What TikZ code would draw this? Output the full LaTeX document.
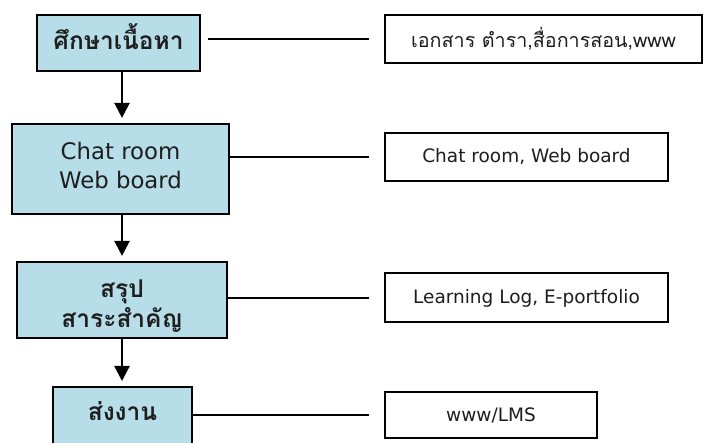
\documentclass[tikz,border=0pt]{standalone}
\usepackage{fontspec}
\setmainfont{DejaVu Sans}
\newfontfamily\thai[Script=Thai]{Loma}
\usetikzlibrary{arrows.meta}
\definecolor{boxblue}{RGB}{183,221,232}
\definecolor{ink}{RGB}{30,30,30}
\tikzset{
  mainbox/.style={draw=black, line width=2.2pt, fill=boxblue, inner sep=0pt},
  sidebox/.style={draw=black, line width=2pt, fill=white, text=ink, align=center, inner sep=0pt},
  thaimain/.style={text=ink, inner sep=0pt, anchor=base, font=\thai\bfseries\fontsize{24.5}{32}\selectfont},
  latinmain/.style={text=ink, inner sep=0pt, anchor=base, font=\fontsize{22.8}{30}\selectfont},
  sidetext/.style={font=\fontsize{18.5}{22}\selectfont},
  flowarrow/.style={line width=2.3pt, -{Triangle[width=15pt,length=15pt]}, shorten >=5pt},
  link/.style={line width=1.6pt, shorten >=15pt}
}
\begin{document}
\begin{tikzpicture}[x=1pt,y=-1pt]
\useasboundingbox (0,0) rectangle (704,443);
\clip (0,0) rectangle (704,443);
% main column boxes
\node[mainbox, minimum width=163, minimum height=56] (b1) at (118.5,43) {};
\node[mainbox, minimum width=217, minimum height=90] (b2) at (120.5,169) {};
\node[mainbox, minimum width=210, minimum height=76] (b3) at (122,300) {};
\node[mainbox, minimum width=139, minimum height=60, anchor=north] (b4) at (122.5,386) {};
% main column texts
\node[thaimain] (t1) at (118.5,49.5) {ศึกษาเนื้อหา};
\node[latinmain] (t2a) at (120.5,160) {Chat room};
\node[latinmain] (t2b) at (120.5,189) {Web board};
\node[thaimain] (t3a) at (122,297.5) {สรุป};
\node[thaimain] (t3b) at (122,328) {สาระสำคัญ};
\node[thaimain] (t4) at (122.5,420) {ส่งงาน};
% side boxes
\node[sidebox, font=\thai\fontsize{19.7}{24}\selectfont, minimum width=317, minimum height=48] (r1) at (543.5,39) {เอกสาร ตำรา,สื่อการสอน,www};
\node[sidebox, sidetext, minimum width=283, minimum height=48] (r2) at (526.5,157) {Chat room, Web board};
\node[sidebox, sidetext, minimum width=283, minimum height=49] (r3) at (526.5,298) {Learning Log, E-portfolio};
\node[sidebox, sidetext, minimum width=212, minimum height=46] (r4) at (491,415) {www/LMS};
% arrows
\draw[flowarrow] (b1.south -| b3.center) -- (b2.north -| b3.center);
\draw[flowarrow] (b2.south -| b3.center) -- (b3.north);
\draw[flowarrow] (b3.south) -- (b4.north -| b3.center);
% links
\draw[link, shorten <=7pt] (b1.east |- r1.west) -- (r1.west);
\draw[link] (b2.east |- r2.west) -- (r2.west);
\draw[link] (b3.east |- r3.west) -- (r3.west);
\draw[link] (b4.east |- r4.west) -- (r4.west);
\end{tikzpicture}
\end{document}
